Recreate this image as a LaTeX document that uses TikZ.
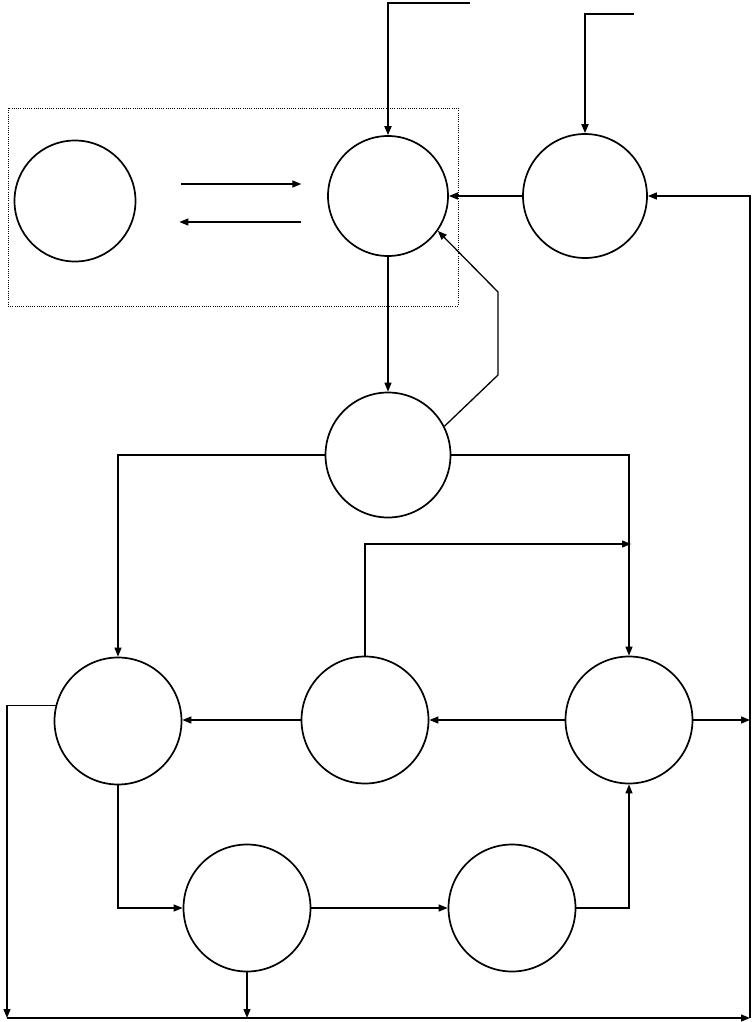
\documentclass[tikz,border=0pt]{standalone}
\usetikzlibrary{arrows.meta}
\begin{document}
\begin{tikzpicture}[x=1pt,y=-1pt,line width=1.3pt,
  circ/.style={draw,circle,line width=1.7pt,inner sep=0pt,minimum size=#1},circ/.default=127pt,
  arr/.style={-{Triangle[length=9pt,width=7pt]}}]
\useasboundingbox (0,0) rectangle (752,1022);
% frame round the first pair
\draw[line width=.8pt,dash pattern=on 1pt off 1.2pt] (8,108) rectangle (458,306);
% circles
\node[circ=121pt] (a) at (75,201) {};\node[circ=120pt] (b) at (388,196) {};\node[circ=124pt] (c) at (585,196) {};
\node[circ=125pt] (d) at (388,455) {};
\node[circ] (e) at (118,721) {};\node[circ] (f) at (365,720) {};\node[circ] (g) at (629,720) {};
\node[circ] (h) at (247,908) {};\node[circ] (i) at (512,908) {};
% free ends and bends
\coordinate (t1) at (470,3);\coordinate (t2) at (634,14);\coordinate (k1) at (498,375);\coordinate (k2) at (498,292);
\coordinate (j1) at (631,544);\coordinate (bl) at (7,1018);\coordinate (br) at (750,1018);
% connectors
\draw[arr,line width=1.8pt] (t1) -| (b.north);\draw[arr,line width=1.8pt] (t2) -| (c.north);
\draw[arr] ([xshift=45pt,yshift=17pt]a.east) -- ++(120,0);
\draw[arr] ([xshift=165pt,yshift=-21pt]a.east) -- ++(-122,0);
\draw[arr] (c.west) -- (c.west -| b.east);\draw[arr] (b.south) -- (d.north);
\draw[arr] (d.27) -- (k1) -- (k2) -- (b.-35);
\draw[arr] (d.west) -| (e.north);\draw[arr] (d.east) -| (g.north);\draw[arr] (f.north) |- (j1);
\draw[arr] (g.west) -- (g.west -| f.east);\draw[arr] (f.west) -- (f.west -| e.east);
\draw[arr] (e.south) |- (h.west);\draw[arr] (h.east) -- (h.east -| i.west);\draw[arr] (i.east) -| (g.south);
\draw[arr] (e.166) -| (bl);\draw[arr] (bl) -- (br);\draw[arr] (h.south) -- (h.south |- bl);
\draw[arr] (g.east) -- (g.east -| br);\draw[arr] (br) |- (c.east);
\end{tikzpicture}
\end{document}
